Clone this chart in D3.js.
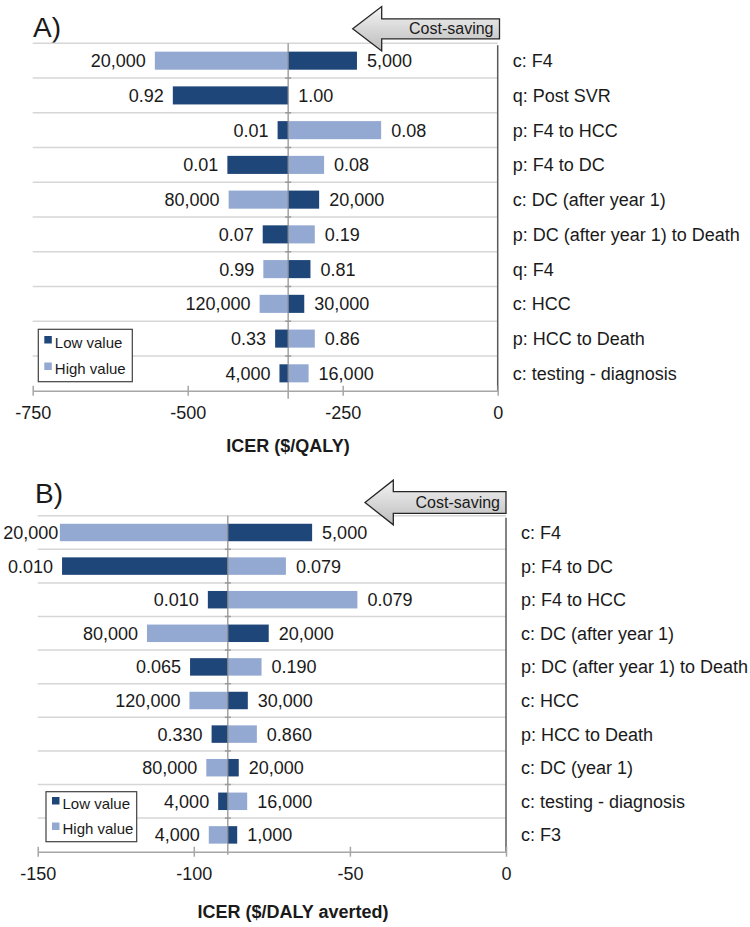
<!DOCTYPE html>
<html><head><meta charset="utf-8">
<script src="https://cdn.jsdelivr.net/npm/d3@7"></script>
<style>
body{margin:0;background:#fff}
svg{display:block}
text{font-family:"Liberation Sans",Arial,sans-serif;fill:#1a1a1a}
</style>
</head><body>
<svg id="c" width="750" height="927"></svg>
<script>
// ---------- Panel A data (ICER $/QALY) ----------
const categoriesA = ["c: F4","q: Post SVR","p: F4 to HCC","p: F4 to DC","c: DC (after year 1)",
  "p: DC (after year 1) to Death","q: F4","c: HCC","p: HCC to Death","c: testing - diagnosis"];
const lowInputA  = ["5,000","0.92","0.01","0.01","20,000","0.07","0.81","30,000","0.33","4,000"];
const highInputA = ["20,000","1.00","0.08","0.08","80,000","0.19","0.99","120,000","0.86","16,000"];
const lowIcerA   = [-227,-524,-355,-436,-288,-379,-302,-312,-359,-352];
const highIcerA  = [-553,-338,-188,-280,-434,-295,-378,-384,-295,-305];
const baseA = -338;
const ticksA = [-750,-500,-250,0];

// ---------- Panel B data (ICER $/DALY averted) ----------
const categoriesB = ["c: F4","p: F4 to DC","p: F4 to HCC","c: DC (after year 1)",
  "p: DC (after year 1) to Death","c: HCC","p: HCC to Death","c: DC (year 1)","c: testing - diagnosis","c: F3"];
const lowInputB  = ["5,000","0.010","0.010","20,000","0.065","30,000","0.330","20,000","4,000","1,000"];
const highInputB = ["20,000","0.079","0.079","80,000","0.190","120,000","0.860","80,000","16,000","4,000"];
const lowIcerB   = [-62.1,-142.2,-95.5,-76.0,-101.2,-82.7,-94.3,-85.6,-92.2,-86.1];
const highIcerB  = [-142.9,-70.5,-47.6,-115.0,-78.3,-101.4,-79.8,-96.0,-82.9,-95.2];
const baseB = -89.1;
const ticksB = [-150,-100,-50,0];

const legendLabels = ["Low value","High value"];
const DARK = "#1f4678", LIGHT = "#93a9d1";

const svg = d3.select("#c");
const defs = svg.append("defs");
const g0 = defs.append("linearGradient").attr("id","arrowGrad").attr("x1",0).attr("y1",0).attr("x2",0).attr("y2",1);
g0.append("stop").attr("offset","0%").attr("stop-color","#f4f4f4");
g0.append("stop").attr("offset","100%").attr("stop-color","#bcbcbc");

function panel(cfg){
  const g = svg.append("g");
  const x = d3.scaleLinear().domain(cfg.domain).range([cfg.x0, cfg.x1]);
  const y = d3.scaleBand().domain(cfg.cats).range([cfg.top, cfg.bottom]).paddingInner(0.48).paddingOuter(0.24);
  const step = y.step();
  const rows = cfg.cats.map((c,i)=>({cat:c, low:cfg.low[i], high:cfg.high[i], lowLab:cfg.lowLab[i], highLab:cfg.highLab[i]}));

  // title
  g.append("text").attr("x",cfg.titleX).attr("y",cfg.titleY).style("font-size","28px").text(cfg.title);

  // gridlines (row boundaries)
  const bounds = d3.range(cfg.cats.length).map(i=>cfg.top + i*step);
  g.selectAll(".grid").data(bounds).join("line")
    .attr("x1",cfg.x0).attr("x2",cfg.x1).attr("y1",d=>d).attr("y2",d=>d)
    .attr("stroke","#d6d6d6").attr("stroke-width",1.5);

  // right vertical axis line (at 0)
  g.append("line").attr("x1",x(0)).attr("x2",x(0)).attr("y1",cfg.top+2).attr("y2",cfg.bottom)
    .attr("stroke","#5a5a5a").attr("stroke-width",1.5);

  // bars
  const bx = (v)=>Math.min(x(v), x(cfg.base));
  const bw = (v)=>Math.abs(x(v)-x(cfg.base));
  g.selectAll(".hb").data(rows).join("rect")
    .attr("x",d=>bx(d.high)).attr("width",d=>bw(d.high))
    .attr("y",d=>y(d.cat)).attr("height",y.bandwidth()).attr("fill",LIGHT);
  g.selectAll(".lb").data(rows).join("rect")
    .attr("x",d=>bx(d.low)).attr("width",d=>bw(d.low))
    .attr("y",d=>y(d.cat)).attr("height",y.bandwidth()).attr("fill",DARK);

  // value labels
  rows.forEach(d=>{
    const cy = y(d.cat) + y.bandwidth()/2;
    const lowLeft = d.low < cfg.base || (d.low === cfg.base && d.high > cfg.base);
    const highLeft = d.high < cfg.base || (d.high === cfg.base && d.low > cfg.base);
    [[d.low,d.lowLab,lowLeft],[d.high,d.highLab,highLeft]].forEach(([v,lab,left])=>{
      const t = g.append("text")
        .attr("x", left ? x(v)-9 : x(v)+10)
        .attr("y", cy).attr("dy","0.36em")
        .attr("text-anchor", left ? "end" : "start")
        .style("font-size","18px").text(lab);
      if (left) {
        const w = t.node().getComputedTextLength();
        const xe = x(v)-9;
        if (xe - w < 5) t.attr("x", Math.min(5 + w, x(v)-1.5));
      }
    });
  });

  // center (base case) line
  g.append("line").attr("x1",x(cfg.base)).attr("x2",x(cfg.base))
    .attr("y1",cfg.top).attr("y2",cfg.bottom+cfg.centerExt)
    .attr("stroke","#8a8a8a").attr("stroke-width",1.2);
  g.selectAll(".ctick").data(bounds.slice(1)).join("line")
    .attr("x1",x(cfg.base)-3).attr("x2",x(cfg.base)+3).attr("y1",d=>d).attr("y2",d=>d)
    .attr("stroke","#9a9a9a").attr("stroke-width",1.5);

  // category labels
  g.selectAll(".cat").data(rows).join("text")
    .attr("x",x(0)+15).attr("y",d=>y(d.cat)+y.bandwidth()/2).attr("dy","0.36em")
    .style("font-size","18px").text(d=>d.cat);

  // x axis
  const axis = d3.axisBottom(x).tickValues(cfg.ticks).tickFormat(d=>String(d))
    .tickSizeInner(5).tickSizeOuter(0).tickPadding(11);
  const ax = g.append("g").attr("transform",`translate(0,${cfg.bottom})`).call(axis);
  ax.select(".domain").attr("stroke","#a6a6a6").attr("stroke-width",1.5);
  ax.selectAll(".tick line").attr("y1",-5).attr("y2",5).attr("stroke","#a6a6a6").attr("stroke-width",1.5);
  ax.selectAll(".tick text").style("font-size","18px").style("font-family","'Liberation Sans',Arial,sans-serif").attr("fill","#1a1a1a");

  // axis title
  g.append("text").attr("x",cfg.axisTitleX).attr("y",cfg.axisTitleY).attr("text-anchor","middle")
    .style("font-size","18px").style("font-weight","bold").text(cfg.axisTitle);

  // legend
  const L = cfg.legend;
  g.append("rect").attr("x",L.x).attr("y",L.y).attr("width",L.w).attr("height",L.h)
    .attr("fill","#fff").attr("stroke","#404040").attr("stroke-width",1.2);
  [[DARK,legendLabels[0],L.b1],[LIGHT,legendLabels[1],L.b2]].forEach(([col,lab,bl])=>{
    g.append("rect").attr("x",L.x+6).attr("y",bl-11.5).attr("width",7.5).attr("height",7.5).attr("fill",col);
    g.append("text").attr("x",L.x+16.5).attr("y",bl).style("font-size","15px").text(lab);
  });

  // cost-saving arrow
  const A = cfg.arrow;
  const pts = [[A.tipX,A.tipY],[A.headX,A.tipY-A.headHalf],[A.headX,A.tipY-A.bodyHalf],
    [A.right,A.tipY-A.bodyHalf],[A.right,A.tipY+A.bodyHalf],[A.headX,A.tipY+A.bodyHalf],[A.headX,A.tipY+A.headHalf]];
  g.append("path").attr("d",d3.line()(pts)+"Z").attr("fill","url(#arrowGrad)")
    .attr("stroke","#262626").attr("stroke-width",1.3).attr("stroke-linejoin","miter");
  g.append("text").attr("x",A.right-6).attr("y",A.tipY+5.5).attr("text-anchor","end")
    .style("font-size","16px").text("Cost-saving");
}

panel({title:"A)", titleX:33, titleY:37, x0:32.7, x1:497.7, domain:[-750,0], ticks:ticksA,
  top:43.3, bottom:390.7, cats:categoriesA, low:lowIcerA, high:highIcerA,
  lowLab:lowInputA, highLab:highInputA, base:baseA, centerExt:8,
  axisTitle:"ICER ($/QALY)", axisTitleX:288, axisTitleY:452,
  legend:{x:38.3, y:329.3, w:94, h:52.4, b1:347.5, b2:374},
  arrow:{tipX:352.7, tipY:28.8, headX:381.7, headHalf:22.2, bodyHalf:10, right:499.5}});

panel({title:"B)", titleX:35, titleY:503, x0:37.7, x1:506, domain:[-150,0], ticks:ticksB,
  top:515.7, bottom:851.7, cats:categoriesB, low:lowIcerB, high:highIcerB,
  lowLab:lowInputB, highLab:highInputB, base:baseB, centerExt:3,
  axisTitle:"ICER ($/DALY averted)", axisTitleX:293, axisTitleY:918,
  legend:{x:46, y:791.7, w:90.7, h:50, b1:808.5, b2:834},
  arrow:{tipX:365, tipY:502.5, headX:393.3, headHalf:22.3, bodyHalf:10.8, right:506}});
</script>
</body></html>
